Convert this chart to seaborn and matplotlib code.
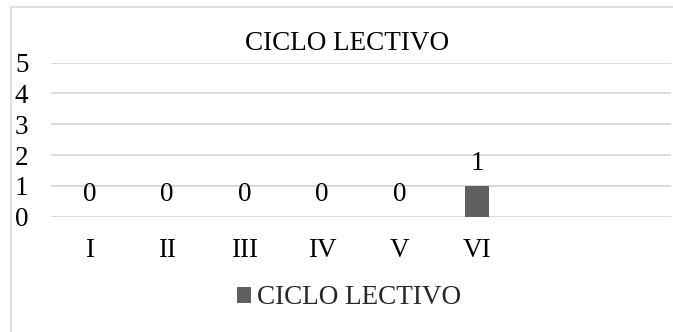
import matplotlib
matplotlib.use("Agg")
import matplotlib.pyplot as plt
import matplotlib.patches as mpatches
import seaborn as sns
import pandas as pd

categories = ["I", "II", "III", "IV", "V", "VI"]
values = [0, 0, 0, 0, 0, 1]
series_name = "CICLO LECTIVO"
title = "CICLO LECTIVO"
yticks = [0, 1, 2, 3, 4, 5]

df = pd.DataFrame({"ciclo": categories, "valor": values})

sns.set_theme(style="white")
plt.rcParams["font.family"] = ["Liberation Serif", "DejaVu Serif"]

W, H = 673, 332
fig = plt.figure(figsize=(W / 100, H / 100), dpi=100)
ax = fig.add_axes([51 / W, (H - 216.7) / H, (671 - 51) / W, (216.7 - 62.7) / H])

bar_color = "#606060"
sns.barplot(data=df, x="ciclo", y="valor", order=categories, color=bar_color,
            width=0.31, ax=ax, saturation=1, errorbar=None, linewidth=0)

ax.set_xlim(-0.5, 7.5)
ax.set_ylim(0, 5)
ax.set_yticks(yticks)
ax.set_yticklabels([str(t) for t in yticks])
ax.yaxis.grid(True, color="#d9d9d9", linewidth=1.4)
ax.set_axisbelow(True)
for s in ax.spines.values():
    s.set_visible(False)
ax.set_xlabel("")
ax.set_ylabel("")

fs = 19.5
ax.tick_params(axis="y", length=0, pad=26, labelsize=fs, labelcolor="black")
ax.tick_params(axis="x", length=0, pad=15.5, labelsize=fs, labelcolor="black")
for lbl in ax.get_yticklabels():
    lbl.set_horizontalalignment("left")

for c in ax.containers:
    ax.bar_label(c, labels=[str(v) for v in values], padding=7, fontsize=fs, color="black")

fig.text(347 / W, 1 - 44 / H, title, ha="center", va="center", fontsize=fs, color="black")

handle = mpatches.Patch(facecolor=bar_color, edgecolor="none", label=series_name)
fig.legend(handles=[handle], loc="center", bbox_to_anchor=(349 / W, 1 - 298 / H),
           frameon=False, fontsize=fs, handlelength=0.52, handleheight=0.52,
           handletextpad=0.25, borderpad=0, borderaxespad=0)

border = mpatches.Rectangle((11 / W, -0.2), 2.0, 1.2 - 7 / H, transform=fig.transFigure,
                            fill=False, edgecolor="#d9d9d9", linewidth=1.2)
fig.add_artist(border)

fig.savefig("out.png", dpi=100)
